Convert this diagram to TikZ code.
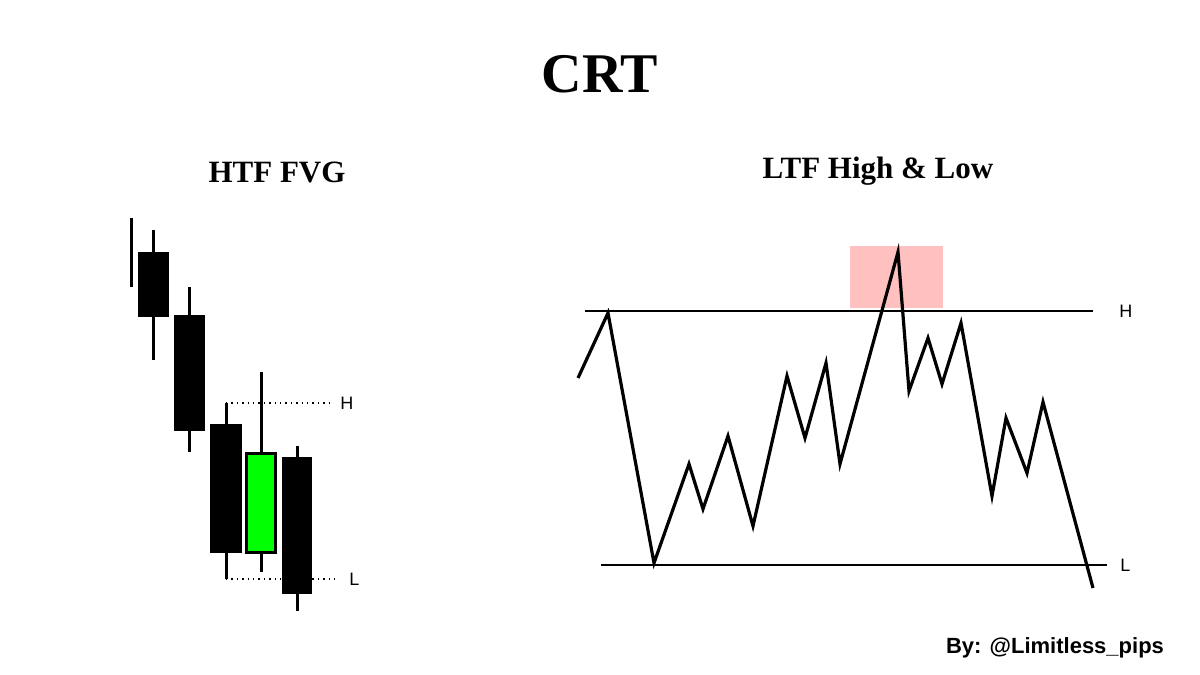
\documentclass[tikz,border=0pt]{standalone}
\usepackage{fontspec}
\setmainfont{Liberation Serif}
\setsansfont{Liberation Sans}
\usepackage{tikz}
\usetikzlibrary{positioning}
\definecolor{fvggreen}{RGB}{0,255,0}
\definecolor{sweeppink}{RGB}{255,192,192}
\tikzset{
  wick/.style={line width=1.5pt, draw=black},
  greenbody/.style={fill=fvggreen, draw=black, line width=1.2pt},
  level/.style={line width=1pt, draw=black},
  price/.style={line width=1.6pt, draw=black, line join=miter},
  gapline/.style={dotted, line width=0.7pt},
  lvl/.style={font=\sffamily\fontsize{9}{10}\selectfont, inner sep=2pt},
  heading/.style={font=\bfseries\fontsize{15.5}{18}\selectfont, inner sep=0pt},
}

\begin{document}
\begin{tikzpicture}[x=0.5pt, y=-0.5pt]
  \useasboundingbox[fill=white] (0,0) rectangle (1200,675);

  % titles
  \node[font=\bfseries\fontsize{28}{32}\selectfont, inner sep=0pt, anchor=base] (title) at (600,92) {CRT};
  \node[heading, anchor=base] (htf) at (277,182) {HTF FVG};
  \node[heading, anchor=base] (ltf) at (878,178) {LTF High \& Low};

  % HTF candles
  \draw[wick] (131,218) -- (131,287);
  \foreach \xl/\xr/\bt/\bb/\wt/\wb in {138/169/252/317/230/360, 174/205/315/431/287/452,
      210/242/424/553/403/579, 282/312/457/594/446/611} {
    \draw[wick] ({(\xl+\xr)/2},\wt) -- ({(\xl+\xr)/2},\wb);
    \fill[black] (\xl,\bt) rectangle (\xr,\bb);
  }
  \draw[wick] (261,372) -- (261,572);
  \draw[greenbody] (246.5,453.5) rectangle (275.5,552.5);

  % gap levels
  \coordinate (gapHi) at (330,403);
  \coordinate (gapLo) at (339,579);
  \draw[gapline] (226,403) -- (gapHi);
  \draw[gapline] (226,579) -- (gapLo);
  \node[lvl, right=3pt of gapHi] (htfH) {H};
  \node[lvl, right=3pt of gapLo] (htfL) {L};

  % LTF range
  \fill[sweeppink] (850,246) rectangle (943,308);
  \coordinate (hiA) at (585,311);
  \coordinate (hiB) at (1093,311);
  \coordinate (loA) at (601,565);
  \coordinate (loB) at (1107,565);
  \draw[level] (hiA) -- (hiB);
  \draw[level] (loA) -- (loB);
  \node[lvl, right=11pt of hiB] (ltfH) {H};
  \node[lvl, right=4.5pt of loB] (ltfL) {L};

  \draw[price] (578,378) -- (608,313) -- (654,563) -- (689,464) -- (703,509)
    -- (728,436) -- (753,526) -- (787,376) -- (805,438) -- (826,363) -- (840,464)
    -- (898,252) -- (909,391) -- (928,338) -- (942,384) -- (961,323) -- (992,496)
    -- (1006,418) -- (1027,473) -- (1043,402) -- (1093,588);

  \node[font=\sffamily\bfseries\fontsize{11}{13}\selectfont, inner sep=0pt, anchor=base] (credit) at (1055,653) {By: @Limitless\_pips};
\end{tikzpicture}
\end{document}
